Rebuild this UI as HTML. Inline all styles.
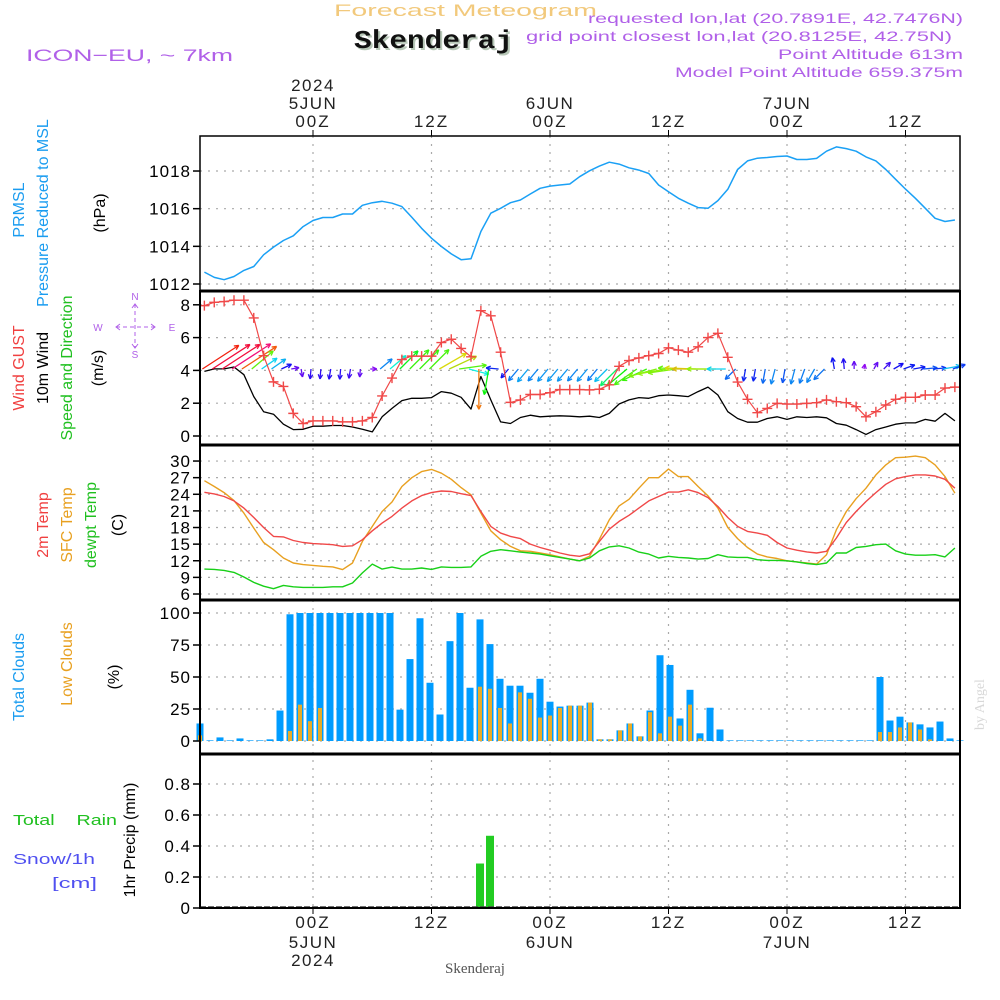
<!DOCTYPE html>
<html><head><meta charset="utf-8"><title>Skenderaj meteogram</title>
<style>
html,body{margin:0;padding:0;background:#fff;}
svg{display:block;font-family:"Liberation Sans",sans-serif;}
</style></head>
<body>
<svg id="chart" width="1000" height="1000" viewBox="0 0 1000 1000" xmlns="http://www.w3.org/2000/svg">
<rect x="0" y="0" width="1000" height="1000" fill="#fff"/>
<text x="334" y="16" font-size="17" fill="#f2c97c" textLength="263" lengthAdjust="spacingAndGlyphs">Forecast Meteogram</text>
<text x="356" y="50" font-size="26" font-weight="bold" fill="#b8c8b8" font-family="Liberation Mono, monospace" textLength="159" lengthAdjust="spacingAndGlyphs">Skenderaj</text>
<text x="354" y="48" font-size="26" font-weight="bold" fill="#111" font-family="Liberation Mono, monospace" textLength="159" lengthAdjust="spacingAndGlyphs">Skenderaj</text>
<text x="26" y="61" font-size="17" fill="#b060e8" textLength="207" lengthAdjust="spacingAndGlyphs">ICON−EU, ~ 7km</text>
<g font-size="14" fill="#b060e8">
<text x="588" y="23" textLength="375" lengthAdjust="spacingAndGlyphs">requested lon,lat (20.7891E, 42.7476N)</text>
<text x="526" y="41" textLength="426" lengthAdjust="spacingAndGlyphs">grid point closest lon,lat (20.8125E, 42.75N)</text>
<text x="778" y="59" textLength="185" lengthAdjust="spacingAndGlyphs">Point Altitude 613m</text>
<text x="675" y="77" textLength="288" lengthAdjust="spacingAndGlyphs">Model Point Altitude 659.375m</text>
</g>
<text x="0" y="0" transform="translate(984,730) rotate(-90)" font-size="14" fill="#d8d8d8" font-family="Liberation Serif, serif">by Angel</text>
<g id="labels">
<text transform="translate(24,210) rotate(-90)" text-anchor="middle" font-size="16" fill="#1a9cf0">PRMSL</text>
<text transform="translate(48,213) rotate(-90)" text-anchor="middle" font-size="16" fill="#1a9cf0">Pressure Reduced to MSL</text>
<text transform="translate(105,213) rotate(-90)" text-anchor="middle" font-size="16" fill="#000">(hPa)</text>
<text transform="translate(24,368) rotate(-90)" text-anchor="middle" font-size="16" fill="#f04040">Wind GUST</text>
<text transform="translate(48,368) rotate(-90)" text-anchor="middle" font-size="16" fill="#000">10m Wind</text>
<text transform="translate(72,368) rotate(-90)" text-anchor="middle" font-size="16" fill="#20c020">Speed and Direction</text>
<text transform="translate(103,368) rotate(-90)" text-anchor="middle" font-size="16" fill="#000">(m/s)</text>
<text transform="translate(48,525) rotate(-90)" text-anchor="middle" font-size="16" fill="#f04040">2m Temp</text>
<text transform="translate(72,525) rotate(-90)" text-anchor="middle" font-size="16" fill="#e8a020">SFC Temp</text>
<text transform="translate(96,525) rotate(-90)" text-anchor="middle" font-size="16" fill="#20c020">dewpt Temp</text>
<text transform="translate(123,525) rotate(-90)" text-anchor="middle" font-size="16" fill="#000">(C)</text>
<text transform="translate(24,677) rotate(-90)" text-anchor="middle" font-size="16" fill="#1a9cf0">Total Clouds</text>
<text transform="translate(72,664) rotate(-90)" text-anchor="middle" font-size="16" fill="#e8a020">Low Clouds</text>
<text transform="translate(119,677) rotate(-90)" text-anchor="middle" font-size="16" fill="#000">(%)</text>
<text x="13" y="825" font-size="15" fill="#20c020" textLength="104" lengthAdjust="spacingAndGlyphs" style="white-space:pre" xml:space="preserve">Total    Rain</text>
<text x="13" y="864" font-size="15" fill="#5050f0" textLength="82" lengthAdjust="spacingAndGlyphs">Snow/1h</text>
<text x="52" y="888" font-size="15" fill="#5050f0" textLength="45" lengthAdjust="spacingAndGlyphs">[cm]</text>
<text transform="translate(135,840) rotate(-90)" text-anchor="middle" font-size="16" fill="#000">1hr Precip (mm)</text>
</g>
<g fill="#b060e8" stroke="#b060e8" font-size="10">
<text x="135" y="300" text-anchor="middle" stroke="none">N</text>
<text x="135" y="358" text-anchor="middle" stroke="none">S</text>
<text x="98" y="331" text-anchor="middle" stroke="none">W</text>
<text x="172" y="331" text-anchor="middle" stroke="none">E</text>
<line x1="116" y1="327" x2="155" y2="327" stroke-dasharray="4 3" stroke-width="1"/>
<line x1="135" y1="304" x2="135" y2="348" stroke-dasharray="4 3" stroke-width="1"/>
<polyline points="120,324 116,327 120,330" fill="none" stroke-width="1"/>
<polyline points="151,324 155,327 151,330" fill="none" stroke-width="1"/>
<polyline points="132,308 135,304 138,308" fill="none" stroke-width="1"/>
<polyline points="132,344 135,348 138,344" fill="none" stroke-width="1"/>
</g>
<g id="grid"></g>
<g id="marks"></g>
<g id="frames"></g>
<g id="axes"></g>
<text x="475" y="973" text-anchor="middle" font-size="15" fill="#555" font-family="Liberation Serif, serif">Skenderaj</text>
</svg>
<script>
const startHour = -11;
const timeTickHours = [0, 12, 24, 36, 48, 60];
const timeTickLabels = ["00Z", "12Z", "00Z", "12Z", "00Z", "12Z"];
const dateTopLabels = [["2024","5JUN"], [], ["6JUN"], [], ["7JUN"], []];
const dateBottomLabels = [["5JUN","2024"], [], ["6JUN"], [], ["7JUN"], []];
const pressure = [1012.63,1012.35,1012.23,1012.4,1012.72,1012.93,1013.55,1013.96,1014.31,1014.56,1015.05,
 1015.37,1015.53,1015.53,1015.72,1015.72,1016.18,1016.32,1016.39,1016.29,1016.11,1015.55,1014.96,
 1014.43,1013.99,1013.6,1013.29,1013.34,1014.79,1015.76,1016.02,1016.32,1016.46,1016.78,1017.08,
 1017.2,1017.26,1017.31,1017.7,
 1018.01,1018.26,1018.47,1018.37,1018.17,1018.05,1017.87,1017.26,
 1016.9,1016.55,1016.29,1016.06,1016.02,1016.43,1017.03,1018.08,1018.54,1018.68,1018.72,1018.77,
 1018.8,1018.61,1018.61,1018.67,1019.05,1019.28,1019.19,1019.05,1018.75,1018.54,1018.08,1017.56,
 1017.04,1016.55,1016.02,1015.49,1015.32,1015.4];
const windGust = [7.95,8.15,8.2,8.28,8.28,7.2,4.9,3.3,3.02,1.38,0.76,
 0.92,0.92,0.92,0.86,0.86,0.92,1.13,2.44,3.53,4.66,4.87,4.87,
 4.87,5.7,5.9,5.34,4.83,7.64,7.33,5.11,2.05,2.2,2.53,2.53,
 2.64,2.83,2.83,2.83,
 2.81,2.85,3.12,4.25,4.6,4.76,4.9,5.03,
 5.38,5.24,5.11,5.44,6.0,6.26,4.8,3.29,2.24,1.42,1.68,1.99,
 1.95,1.95,1.99,2.03,2.2,2.09,2.03,1.79,1.17,1.48,1.89,2.24,
 2.36,2.36,2.5,2.5,2.92,2.98];
const windSpeed = [3.94,4.09,4.09,4.21,3.74,2.4,1.48,1.33,0.72,0.39,0.41,
 0.6,0.6,0.64,0.64,0.55,0.41,0.25,1.17,1.68,2.16,2.3,2.3,
 2.34,2.71,2.61,2.36,1.64,3.63,2.2,0.86,0.76,1.13,1.27,1.17,
 1.21,1.23,1.21,1.17,
 1.21,1.13,1.38,1.95,2.2,2.34,2.3,2.46,
 2.5,2.46,2.4,2.71,2.98,2.5,1.48,1.07,0.84,0.84,1.07,1.17,
 1.01,1.17,1.13,1.17,1.11,0.76,0.66,0.39,0.1,0.39,0.55,0.72,
 0.8,0.8,1.01,0.9,1.38,0.92];
const windToward = [33,33,33,33,33,40,35,35,25,10,-80,
 -95,-95,-100,-95,-100,-95,0,40,40,45,45,45,
 45,30,25,8,-15,-90,-100,175,-130,-130,-130,-130,
 -130,-130,-130,-130,
 -130,-130,-135,-135,-140,-145,-155,-165,
 -170,-172,178,178,180,180,180,-135,-100,-100,-100,-105,
 -100,-105,-110,-120,-135,100,95,90,80,60,45,30,
 20,10,5,5,10,20];
const temp2m = [24.36,24.06,23.6,22.8,21.5,19.8,18.0,16.4,16.3,15.66,15.3,
 15.1,15.0,14.9,14.6,14.7,15.8,17.4,18.8,20.0,21.5,22.8,23.76,
 24.3,24.6,24.5,24.1,23.76,20.9,18.2,17.0,16.4,16.0,15.0,14.4,
 13.9,13.4,13.0,12.8,
 13.26,15.5,17.7,19.1,20.2,21.5,22.8,23.6,
 24.4,24.4,24.8,24.3,23.4,21.8,19.8,18.2,17.3,17.0,16.6,15.3,
 14.3,13.9,13.6,13.4,13.7,16.1,18.9,20.9,22.7,24.3,25.8,26.8,
 27.2,27.5,27.5,27.3,26.7,25.1];
const tempSfc = [26.46,25.4,24.3,22.86,20.6,17.9,15.3,14.0,12.5,11.6,11.3,
 11.16,11.0,10.9,10.4,11.6,15.5,18.2,20.9,22.6,25.4,27.0,28.1,
 28.5,27.8,26.7,25.2,23.9,20.6,17.4,15.8,14.6,13.8,13.7,13.4,
 13.1,12.7,12.3,12.0,
 12.8,15.9,19.4,21.9,23.1,25.1,27.0,27.0,
 28.56,27.2,27.2,25.4,23.7,21.5,18.0,16.0,14.4,13.2,12.7,12.4,
 12.0,11.8,11.6,11.4,13.1,17.6,20.9,23.2,25.1,27.5,29.3,30.6,
 30.7,30.9,30.6,29.3,27.2,24.2];
const dewpt = [10.5,10.44,10.26,9.9,9.06,8.1,7.4,6.96,7.56,7.3,7.2,
 7.2,7.2,7.3,7.3,7.98,9.8,11.4,10.5,10.86,10.5,10.5,10.7,
 10.44,10.9,10.8,10.8,10.9,12.8,13.7,14.0,13.8,13.56,13.4,13.2,
 12.9,12.6,12.3,12.0,
 12.5,13.8,14.5,14.7,14.3,13.56,13.2,12.5,
 12.8,12.6,12.5,12.3,12.4,13.1,12.7,12.6,12.6,12.2,12.06,12.06,
 12.0,11.8,11.5,11.3,11.6,13.4,13.4,14.4,14.6,14.9,15.0,13.8,
 13.2,13.0,13.0,13.1,12.7,14.3];
const totalClouds = [13.7,0.5,2.8,0.5,2,0.5,0.5,1.3,23.8,99,
 100,100,100,100,100,100,100,100,100,100,
 24.5,64,95.9,45.5,20.7,78,100,41.6,95,75.7,
 48.6,43.2,43.2,37.7,48.6,30.7,26.9,27.6,27.6,30,
 1.3,1.3,8.3,13.7,3.6,23.8,67,59.4,17.6,40,
 6,26,9,
 0.5,0.5,0.5,0.5,0.5,0.5,0.5,0.5,0.5,0.5,0.5,0.5,0.5,0.5,0.5,
 50,16,19,14.5,13,10.6,15.2,2,0.5];
const lowClouds = [4.4,0,0,0,0,0,0,0,0,7.8,
 28.4,15.5,25.8,0,0,0,0,0,0,0,
 0,0,0,0,0,0,0,0,42.4,40.8,
 25.8,13.7,38,33,18.3,19.9,25.8,27.6,27.6,30,
 1.3,1.3,8.3,13.7,3.6,22.5,6,19,12,28.4,
 2,0,0,
 0,0,0,0,0,0,0,0,0,0,0,0,0,0,0,
 7,7,10.6,14.5,9,1.3,0,0,0];
const precipIndex = [28, 29];
const precipValues = [0.287, 0.466];
const pressTicks = [1012,1014,1016,1018];
const windTicks = [0,2,4,6,8];
const tempTicks = [6,9,12,15,18,21,24,27,30];
const cloudTicks = [0,25,50,75,100];
const precipTicks = [0,0.2,0.4,0.6,0.8];

const X0 = 200, X1 = 960;
function xH(h){ return 313 + 9.875*h; }
function xB(i){ return 200 + 10*i; }
function yP(v){ return 284 - (v-1012)*18.83; }
function yW(v){ return 436 - v*16.4; }
function yT(v){ return 594 - (v-6)*5.54; }
function yC(v){ return 741 - v*1.28; }
function yR(v){ return 908 - v*155; }
const panels = [[136,291],[291,445],[445,600],[600,754],[754,908]];

const NS = "http://www.w3.org/2000/svg";
function mk(tag, attrs, parent){
  const e = document.createElementNS(NS, tag);
  for (const k in attrs) e.setAttribute(k, attrs[k]);
  parent.appendChild(e); return e;
}
const gGrid = document.getElementById('grid');
const gMarks = document.getElementById('marks');
const gFrames = document.getElementById('frames');
const gAxes = document.getElementById('axes');

timeTickHours.forEach((h, k) => {
  const x = xH(h);
  const gl = mk('line', {x1:x, y1:136, x2:x, y2:908, stroke:'#aaa', 'stroke-width':1.2, 'stroke-dasharray':'2 6'}, gGrid);
  
  
  mk('line', {x1:x, y1:130, x2:x, y2:136, stroke:'#000', 'stroke-width':1}, gAxes);
  mk('line', {x1:x, y1:908, x2:x, y2:914, stroke:'#000', 'stroke-width':1}, gAxes);
  const t = mk('text', {x:x, y:127, 'text-anchor':'middle', 'font-size':17, fill:'#222', 'letter-spacing':2}, gAxes);
  t.textContent = timeTickLabels[k];
  
  
  const top = dateTopLabels[k];
  top.forEach((s, j) => {
    const tt = mk('text', {x:x, y:127 - 18*(top.length - j), 'text-anchor':'middle', 'font-size':17, fill:'#222', 'letter-spacing':1.5}, gAxes);
    tt.textContent = s;
    
    
  });
  const b = mk('text', {x:x, y:928, 'text-anchor':'middle', 'font-size':17, fill:'#222', 'letter-spacing':2}, gAxes);
  b.textContent = timeTickLabels[k];
  
  
  dateBottomLabels[k].forEach((s, j) => {
    const bb = mk('text', {x:x, y:948 + 18*j, 'text-anchor':'middle', 'font-size':17, fill:'#222', 'letter-spacing':1.5}, gAxes);
    bb.textContent = s;
    
    
  });
});

function yAxis(ticks, yf, fmt, name){
  ticks.forEach(v => {
    const y = yf(v);
    const gl = mk('line', {x1:X0, y1:y, x2:X1, y2:y, stroke:'#aaa', 'stroke-width':1.2, 'stroke-dasharray':'2 6'}, gGrid);
    
    
    mk('line', {x1:X0-7, y1:y, x2:X0, y2:y, stroke:'#000', 'stroke-width':1.5}, gAxes);
    const t = mk('text', {x:X0-9, y:y+6, 'text-anchor':'end', 'font-size':17, fill:'#000', 'letter-spacing':1}, gAxes);
    t.textContent = fmt(v);
    
    
  });
}
yAxis(pressTicks, yP, v => String(v), 'pressure');
yAxis(windTicks, yW, v => String(v), 'wind');
yAxis(tempTicks, yT, v => String(v), 'temp');
yAxis(cloudTicks, yC, v => String(v), 'cloud');
yAxis(precipTicks, yR, v => v === 0 ? '0' : v.toFixed(1), 'precip');

function linePath(arr, yf, color, name, w){
  const d = arr.map((v, i) => (i ? 'L' : 'M') + xH(startHour + i).toFixed(1) + ',' + yf(v).toFixed(1)).join(' ');
  const p = mk('path', {d:d, fill:'none', stroke:color, 'stroke-width':w || 1.4, 'stroke-linejoin':'round'}, gMarks);
  
  
  return p;
}

totalClouds.forEach((v, i) => {
  const x = xB(i);
  const r = mk('rect', {x:x-3.5, y:yC(v), width:7, height:yC(0)-yC(v), fill:'#009cff'}, gMarks);
  
  
});
lowClouds.forEach((v, i) => {
  if (v <= 0) return;
  const x = xB(i);
  const r = mk('rect', {x:x-2, y:yC(v), width:4, height:yC(0)-yC(v), fill:'#e8ac2a'}, gMarks);
  
  
});
precipIndex.forEach((idx, k) => {
  const v = precipValues[k];
  const r = mk('rect', {x:xB(idx)-4, y:yR(v), width:8, height:yR(0)-yR(v), fill:'#22cc22'}, gMarks);
  
  
});
mk('line', {x1:X0, y1:907, x2:X1, y2:907, stroke:'#444', 'stroke-width':1.5, 'stroke-dasharray':'6 2'}, gMarks);

linePath(tempSfc, yT, '#e8a020', 'sfc-temp-line');
linePath(temp2m, yT, '#f04848', '2m-temp-line');
linePath(dewpt, yT, '#18d018', 'dewpoint-line');
linePath(pressure, yP, '#1aa0f5', 'pressure-line', 1.5);
linePath(windSpeed, yW, '#000', 'wind-speed-line', 1.3);

const hueStops = [[0.2,275],[0.9,230],[1.2,205],[1.6,180],[2.2,120],[2.5,85],[2.7,60],[3.6,30],[4.0,0],[4.3,-40]];
function hueFor(s){
  if (s <= hueStops[0][0]) return hueStops[0][1];
  for (let k = 1; k < hueStops.length; k++){
    if (s <= hueStops[k][0]){
      const a = hueStops[k-1], b = hueStops[k];
      return a[1] + (b[1]-a[1])*(s-a[0])/(b[0]-a[0]);
    }
  }
  return hueStops[hueStops.length-1][1];
}
windToward.forEach((deg, i) => {
  const s = windSpeed[i];
  const L = 4 + s*10;
  const a = deg*Math.PI/180;
  const x0 = xH(startHour + i) - 2, y0 = 369;
  const x1 = x0 + L*Math.cos(a), y1 = y0 - L*Math.sin(a);
  const h = (hueFor(s) + 360) % 360;
  const col = 'hsl(' + h.toFixed(0) + ',90%,' + (h > 40 && h < 80 ? '45%' : '50%') + ')';
  const g = mk('g', {stroke:col, 'stroke-width':1.3, fill:'none'}, gMarks);
  
  
  mk('line', {x1:x0, y1:y0, x2:x1, y2:y1}, g);
  const hl = 5;
  [a + Math.PI - 0.45, a + Math.PI + 0.45].forEach(b => {
    mk('line', {x1:x1, y1:y1, x2:x1 + hl*Math.cos(b), y2:y1 - hl*Math.sin(b)}, g);
  });
});

linePath(windGust, yW, '#f04848', 'wind-gust-line', 1.2);
windGust.forEach((v, i) => {
  const x = xH(startHour + i), y = yW(v);
  const p = mk('path', {d:'M' + (x-5) + ',' + y + 'H' + (x+5) + 'M' + x + ',' + (y-5) + 'V' + (y+5), stroke:'#f04848', 'stroke-width':1.4}, gMarks);
  
  
});

panels.forEach((p, k) => {
  const r = mk('rect', {x:X0, y:p[0], width:X1-X0, height:p[1]-p[0], fill:'none', stroke:'#000', 'stroke-width':k === 0 ? 1.5 : 2}, gFrames);
  
  
});
panels.slice(1).forEach(p => {
  mk('line', {x1:X0, y1:p[0], x2:X1, y2:p[0], stroke:'#000', 'stroke-width':3}, gFrames);
});
</script>
</body></html>
